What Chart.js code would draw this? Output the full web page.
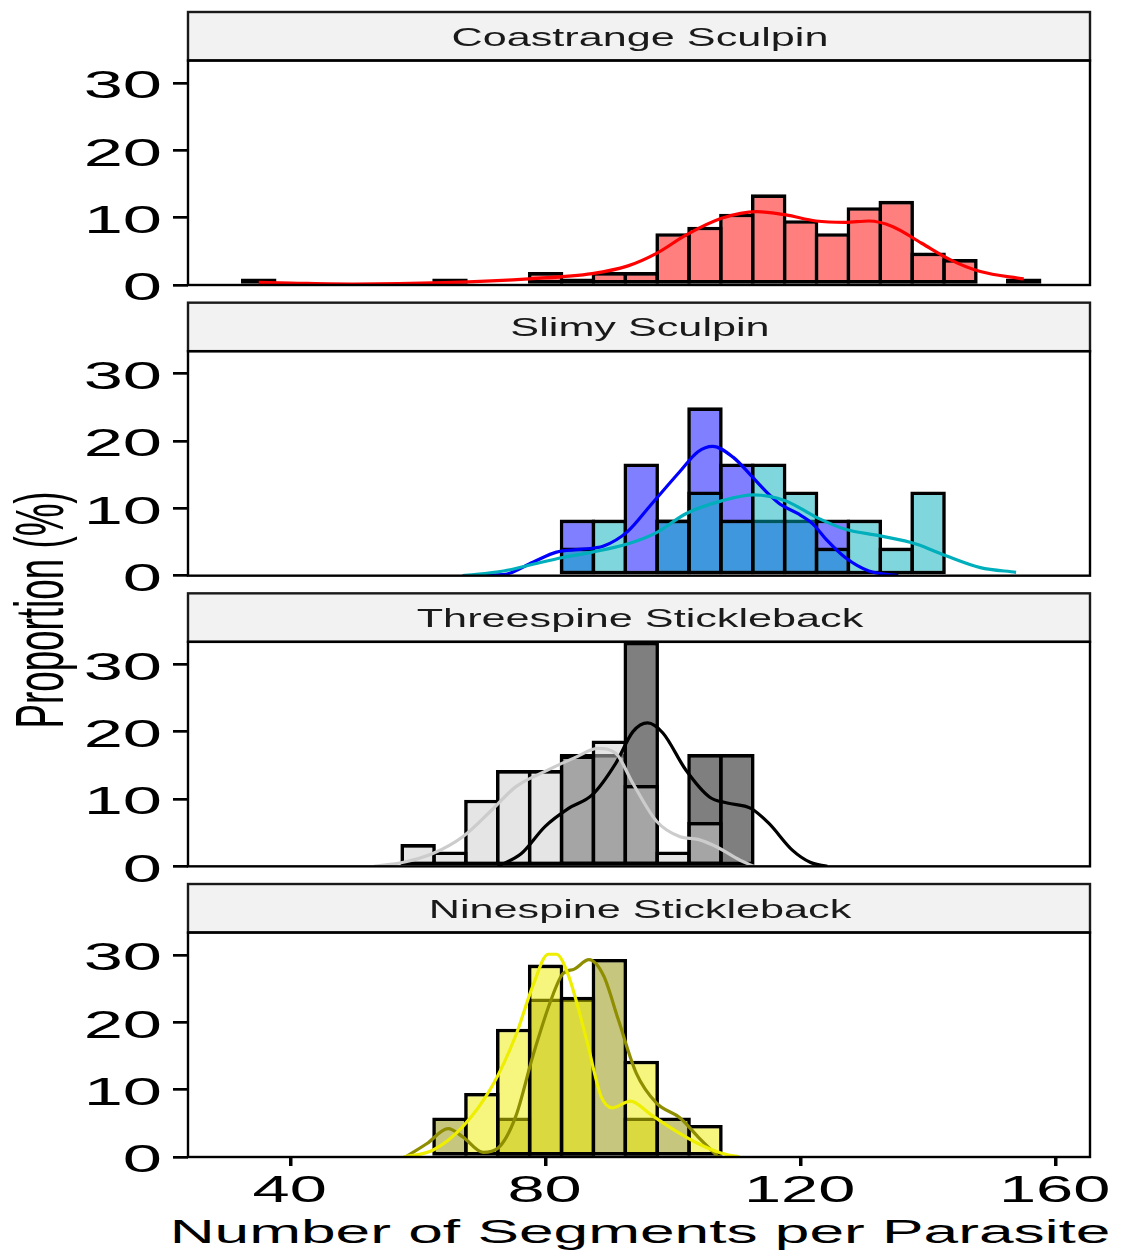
<!DOCTYPE html>
<html>
<head>
<meta charset="utf-8">
<script src="https://cdn.jsdelivr.net/npm/chart.js@4.4.1/dist/chart.umd.min.js"></script>
<style>
html,body{margin:0;padding:0;background:#fff;}
#wrap{position:relative;width:1121px;height:1259px;overflow:hidden;background:#fff;}
#wrap canvas{position:absolute;left:0;}
.ttl{position:absolute;width:0;height:0;}
.ttl span{position:absolute;left:0;top:0;white-space:nowrap;transform:translate(-50%,-50%);
  font-family:"Liberation Sans",Arial,Helvetica,sans-serif;line-height:1;color:#000;}
</style>
</head>
<body>
<div id="wrap">
  <div class="ttl" style="left:640px;top:1232px;transform:scaleX(1.91);"><span style="font-size:32.6px;">Number of Segments per Parasite</span></div>
  <div class="ttl" style="left:42px;top:610px;transform:scaleX(1.85) rotate(-90deg);"><span style="font-size:36.8px;">Proportion (%)</span></div>
</div>
<script>
// ---------------- data ----------------
const facetNames = ['Coastrange Sculpin', 'Slimy Sculpin', 'Threespine Stickleback', 'Ninespine Stickleback'];
const bins = [35,40,45,50,55,60,65,70,75,80,85,90,95,100,105,110,115,120,125,130,135,140,145,150,155];

const coastPct      = [0.96,0,0,0,0,0,0.96,0,0,1.92,0.96,1.92,1.92,7.69,8.65,10.58,13.46,9.62,7.69,11.54,12.5,4.81,3.85,0,0.96];
const slimyBluePct  = [0,0,0,0,0,0,0,0,0,0,8.33,0,16.67,8.33,25,16.67,8.33,8.33,8.33,0,0,0,0,0,0];
const slimyCyanPct  = [0,0,0,0,0,0,0,0,0,0,4.17,8.33,0,8.33,12.5,8.33,16.67,12.5,4.17,8.33,4.17,12.5,0,0,0];
const threeDarkPct  = [0,0,0,0,0,0,0,0,0,0,16.67,16.67,33.33,0,16.67,16.67,0,0,0,0,0,0,0,0,0];
const threeLightPct = [0,0,0,0,0,3.30,2.20,9.89,14.29,14.29,16.48,18.68,12.09,2.20,6.59,0,0,0,0,0,0,0,0,0,0];
const nineOlivePct  = [0,0,0,0,0,0,5.88,0,5.88,23.53,23.53,29.41,5.88,5.88,0,0,0,0,0,0,0,0,0,0,0];
const nineYellowPct = [0,0,0,0,0,0,0,9.52,19.05,28.57,23.81,0,14.29,0,4.76,0,0,0,0,0,0,0,0,0,0];

const coastDensX = [35,40,50,64,78,87.3,92.8,97.4,102,107.6,113.1,117.7,122.4,127,130.7,134.4,139,143.6,148.2,155];
const coastDensY = [0.4,0.3,0.15,0.35,0.95,1.7,2.8,4.7,7.4,9.9,10.9,10.4,9.5,9.3,9.5,8.7,6.2,3.7,2.0,0.9];

const slimyBlueDensX = [67,73.4,78,81.7,85.4,89.1,92.8,96.5,101.1,103.9,106.2,109.4,112.2,115.0,116.8,119.6,121.9,124.2,127.0,130.7,135.3];
const slimyBlueDensY = [0,0.15,2.0,3.5,3.9,4.4,6.5,10.5,15.5,18.4,19.2,17.6,14.9,12.1,10.6,9.2,7.7,5.2,2.7,0.7,0];
const slimyCyanDensX = [67,73.4,78,82.7,87.3,92.8,97.4,102,107.6,112.6,117.7,122.4,127,132.5,138.1,142.7,148.2,153.8];
const slimyCyanDensY = [0,0.7,1.7,2.7,3.5,4.7,6.4,9.2,11.1,12.0,11.1,8.7,6.9,5.9,4.7,3.0,1.2,0.5];

const threeLightDensX = [53.1,57.7,62.3,67,71.6,75.3,79.9,84.5,88.2,91,93.7,97.4,101.1,103.9,106.8,110.5,112.7];
const threeLightDensY = [0,0.6,1.9,4.4,8.4,11.8,14.1,16.1,17.5,16.8,12.3,6.7,4.4,4.0,2.9,0.9,0];
const threeDarkDensX = [72.5,76.2,79.9,83.6,87.3,91,93.7,96,98.4,102,105.7,108.5,112.2,115,118.7,121.5,124.2];
const threeDarkDensY = [0,1.9,5.9,8.6,10.6,15.3,20.0,21.3,19.8,14.3,10.3,9.4,8.6,6.4,2.4,0.6,0];

const nineYellowDensX = [57.7,62.3,67,71.6,75.3,78,80.4,81.7,83.6,86.4,88.7,90.5,93.3,96.5,100.2,103.9,107.6,110.4];
const nineYellowDensY = [0,1.0,4.5,10.5,18.0,25.4,30.1,30.1,26.9,17.5,9.0,7.3,8.3,6.3,4.0,2.0,0.55,0];
const nineOliveDensX = [58,61.4,64.7,67,70.2,72.5,75.3,78,80.8,82.7,84.5,86.8,89.1,91.4,94.2,97.4,101.1,103.9,107.1];
const nineOliveDensY = [0,2.0,4.2,3.0,0.7,1.3,6.0,15.0,23.2,27.2,27.9,29.3,26.9,20.4,12.5,8.0,5.8,3.0,0];

const yTicks = [0,10,20,30];
const yTickLabels = ['0','10','20','30'];
const xTicks = [40,80,120,160];
const xTickLabels = ['40','80','120','160'];
const xMin = 23.9, xMax = 165.4, yMax = 33.33;

// ---------------- helpers ----------------
const FONT = '"Liberation Sans", Arial, Helvetica, sans-serif';
const BAR_BORDER = 3.6;
function stretchedText(ctx, text, x, y, size, sx, align, color) {
  ctx.save();
  ctx.translate(x, y);
  ctx.scale(sx, 1);
  ctx.font = size + 'px ' + FONT;
  ctx.textAlign = align;
  ctx.textBaseline = 'alphabetic';
  ctx.fillStyle = color;
  ctx.fillText(text, 0, 0);
  ctx.restore();
}
function barSet(vals, fill, order) {
  return {
    type: 'bar', data: bins.map((b, i) => ({x: b, y: vals[i]})),
    backgroundColor: fill, borderColor: '#000', borderWidth: BAR_BORDER,
    borderSkipped: false, grouped: false, barPercentage: 1.113, categoryPercentage: 1, order: order
  };
}
function lineSet(xs, ys, color) {
  return {
    type: 'line', data: xs.map((x, i) => ({x: x, y: ys[i]})),
    borderColor: color, borderWidth: 3.2, pointRadius: 0, fill: false,
    tension: 0.4, cubicInterpolationMode: 'monotone', order: 0
  };
}

const facetPlugin = {
  id: 'facet',
  afterDraw(chart, args, opts) {
    const ctx = chart.ctx, a = chart.chartArea;
    const stripH = 48.5;
    ctx.save();
    ctx.fillStyle = '#F2F2F2';
    ctx.fillRect(a.left, a.top - stripH, a.right - a.left, stripH);
    ctx.lineWidth = 2.4;
    ctx.strokeStyle = '#1A1A1A';
    ctx.strokeRect(a.left, a.top - stripH, a.right - a.left, stripH);
    ctx.strokeStyle = '#000';
    ctx.strokeRect(a.left, a.top, a.right - a.left, a.bottom - a.top);
    ctx.restore();
    stretchedText(ctx, opts.label, (a.left + a.right) / 2 + 1, a.top - stripH + 33.5, 26.5, 1.63, 'center', '#1A1A1A');
    const ys = chart.scales.y;
    ys.ticks.forEach(t => {
      const py = ys.getPixelForValue(t.value);
      stretchedText(ctx, t.label, 162, py + 15.3, 38.5, 1.83, 'right', '#000');
    });
    if (opts.last) {
      const xs = chart.scales.x;
      xs.ticks.forEach(t => {
        const px = xs.getPixelForValue(t.value);
        stretchedText(ctx, t.label, px - 1, a.bottom + 44.5, 37.3, 1.79, 'center', '#000');
      });
    }
  }
};

function makeChart(k, datasets) {
  const last = (k === 3);
  const stripTop = 12 + 290.67 * k;
  const plotTop = 60.5 + 290.67 * k;
  const plotBottom = 285 + 290.67 * k;
  const cTop = Math.round(stripTop - 4);
  const cH = last ? 1259 - cTop : Math.round(plotBottom + 17) - cTop;
  const cv = document.createElement('canvas');
  cv.width = 1121; cv.height = cH;
  cv.style.top = cTop + 'px';
  document.getElementById('wrap').appendChild(cv);
  new Chart(cv, {
    type: 'bar',
    data: {datasets: datasets},
    plugins: [facetPlugin],
    options: {
      responsive: false, animation: false,
      layout: {padding: {top: plotTop - cTop, right: 31, bottom: last ? 0 : (cTop + cH - plotBottom), left: 0}},
      plugins: {
        legend: {display: false}, tooltip: {enabled: false},
        facet: {label: facetNames[k], last: last}
      },
      scales: {
        x: {
          type: 'linear', min: xMin, max: xMax, display: last, offset: false, bounds: 'data',
          afterBuildTicks: s => { s.ticks = xTicks.map((v, i) => ({value: v, label: xTickLabels[i]})); },
          afterFit: s => { s.height = last ? 102 : 0; },
          ticks: {display: false},
          grid: {display: true, offset: false, drawOnChartArea: false, drawTicks: true, tickLength: 9, color: '#000', lineWidth: 3.5},
          border: {display: false}
        },
        y: {
          type: 'linear', min: 0, max: yMax, bounds: 'data',
          afterBuildTicks: s => { s.ticks = yTicks.map((v, i) => ({value: v, label: yTickLabels[i]})); },
          afterFit: s => { s.width = 188; },
          ticks: {display: false, includeBounds: false},
          grid: {display: true, drawOnChartArea: false, drawTicks: true, tickLength: 15, color: '#000', lineWidth: 2.7},
          border: {display: false}
        }
      }
    }
  });
}

makeChart(0, [
  lineSet(coastDensX, coastDensY, '#FF0000'),
  barSet(coastPct, 'rgba(255,0,0,0.5)', 1)
]);
makeChart(1, [
  lineSet(slimyCyanDensX, slimyCyanDensY, '#00AFBB'),
  lineSet(slimyBlueDensX, slimyBlueDensY, '#0000FF'),
  barSet(slimyCyanPct, 'rgba(0,175,187,0.5)', 1),
  barSet(slimyBluePct, 'rgba(0,0,255,0.5)', 2)
]);
makeChart(2, [
  lineSet(threeLightDensX, threeLightDensY, '#CCCCCC'),
  lineSet(threeDarkDensX, threeDarkDensY, '#000000'),
  barSet(threeLightPct, 'rgba(204,204,204,0.5)', 1),
  barSet(threeDarkPct, 'rgba(0,0,0,0.5)', 2)
]);
makeChart(3, [
  lineSet(nineYellowDensX, nineYellowDensY, '#EEEE00'),
  lineSet(nineOliveDensX, nineOliveDensY, '#8F8E00'),
  barSet(nineYellowPct, 'rgba(238,238,0,0.5)', 1),
  barSet(nineOlivePct, 'rgba(143,142,0,0.5)', 2)
]);
</script>
</body>
</html>
